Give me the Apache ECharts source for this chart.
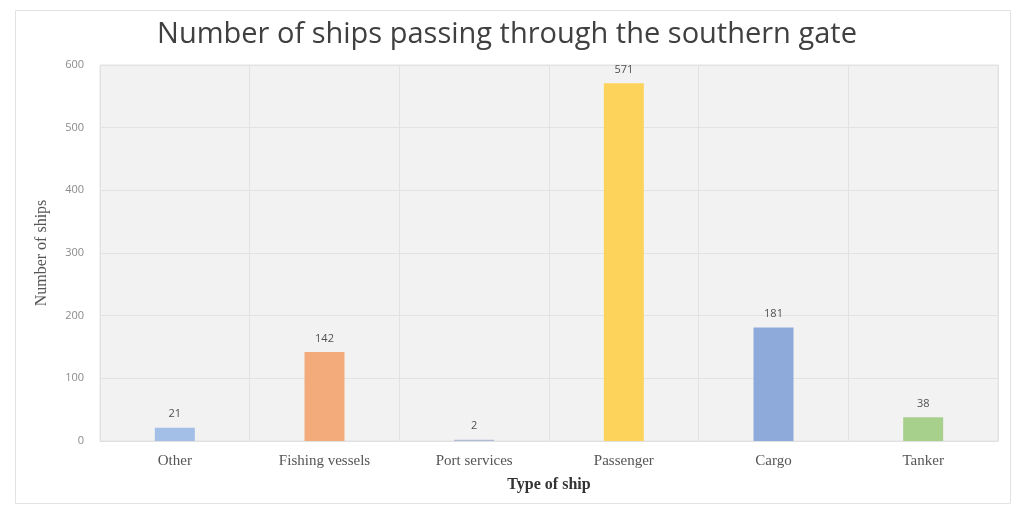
<!DOCTYPE html>
<html>
<head>
<meta charset="utf-8">
<script src="https://cdn.jsdelivr.net/npm/echarts@6/dist/echarts.min.js"></script>
<style>
  html, body { margin: 0; padding: 0; background: #ffffff; }
  #chart { width: 1014px; height: 506px; }
</style>
</head>
<body>
<div id="chart"></div>
<script>
// Ship counts by type through the southern gate
const categories = ['Other', 'Fishing vessels', 'Port services', 'Passenger', 'Cargo', 'Tanker'];
const shipCounts = [21, 142, 2, 571, 181, 38];
const barColors = ['#a3bfe8', '#f4ab7c', '#aebbd6', '#fdd35c', '#8eaadb', '#a8d08d'];
const yTicks = { min: 0, max: 600, interval: 100 };

const chart = echarts.init(document.getElementById('chart'));

chart.setOption({
  backgroundColor: '#ffffff',
  animation: false,
  title: {
    text: 'Number of ships passing through the southern gate',
    left: 'center',
    top: 15,
    textStyle: {
      fontFamily: 'Open Sans',
      fontSize: 29,
      fontWeight: 'normal',
      color: '#404040'
    }
  },
  graphic: [{
    type: 'rect',
    shape: { x: 15.5, y: 10.5, width: 995, height: 493 },
    style: { fill: 'none', stroke: '#e2e2e2', lineWidth: 1 },
    silent: true,
    z: -1
  }],
  grid: {
    left: 100,
    right: 16,
    top: 65,
    bottom: 65,
    show: true,
    backgroundColor: '#f2f2f2',
    borderColor: '#e4e4e4',
    borderWidth: 1
  },
  xAxis: {
    type: 'category',
    data: categories,
    name: 'Type of ship',
    nameLocation: 'middle',
    nameGap: 36,
    nameTextStyle: {
      fontFamily: 'Liberation Serif',
      fontSize: 16,
      fontWeight: 'bold',
      color: '#333333'
    },
    axisLine: { show: true, lineStyle: { color: '#e0e0e0' } },
    axisTick: { show: false },
    axisLabel: {
      fontFamily: 'Liberation Serif',
      fontSize: 15,
      color: '#555555',
      margin: 13
    },
    splitLine: { show: true, lineStyle: { color: '#e2e2e2', width: 1 } }
  },
  yAxis: {
    type: 'value',
    min: yTicks.min,
    max: yTicks.max,
    interval: yTicks.interval,
    name: 'Number of ships',
    nameLocation: 'middle',
    nameGap: 50,
    nameTextStyle: {
      fontFamily: 'Liberation Serif',
      fontSize: 16,
      color: '#555555'
    },
    axisLine: { show: false },
    axisTick: { show: false },
    axisLabel: {
      fontFamily: 'Open Sans',
      fontSize: 11,
      color: '#8a8a8a',
      margin: 16
    },
    splitLine: { show: true, lineStyle: { color: '#e2e2e2', width: 1 } }
  },
  series: [{
    type: 'bar',
    data: shipCounts.map((v, i) => ({ value: v, itemStyle: { color: barColors[i] } })),
    barWidth: 40,
    label: {
      show: true,
      position: 'top',
      distance: 8,
      fontFamily: 'Open Sans',
      fontSize: 11,
      color: '#505050'
    }
  }]
});
</script>
</body>
</html>
